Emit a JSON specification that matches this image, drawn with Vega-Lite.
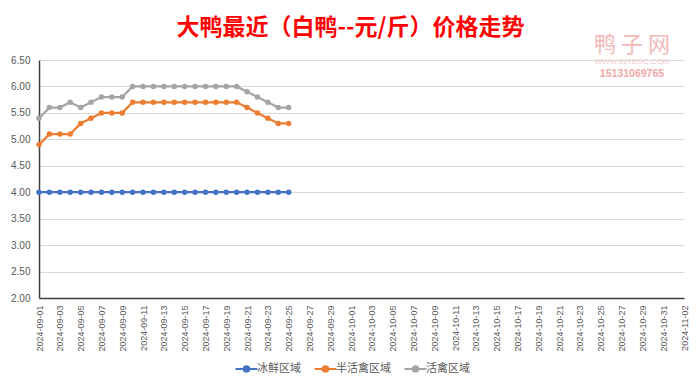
{
  "$schema": "https://vega.github.io/schema/vega-lite/v6.json",
  "width": 645,
  "height": 238,
  "autosize": {"type": "none"},
  "padding": {"left": 39, "top": 60, "right": 16, "bottom": 88},
  "background": "white",
  "config": {"view": {"stroke": null}},
  "title": {"text": "大鸭最近（白鸭--元/斤）价格走势", "color": "#FF0000", "fontSize": 23, "font": "Noto Sans CJK SC", "fontWeight": "bold", "anchor": "middle", "offset": -6, "dx": -11},
  "datasets": {
    "prices": [
      {"date": "2024-09-01", "冰鲜区域": 4.0, "半活禽区域": 4.9, "活禽区域": 5.4},
      {"date": "2024-09-02", "冰鲜区域": 4.0, "半活禽区域": 5.1, "活禽区域": 5.6},
      {"date": "2024-09-03", "冰鲜区域": 4.0, "半活禽区域": 5.1, "活禽区域": 5.6},
      {"date": "2024-09-04", "冰鲜区域": 4.0, "半活禽区域": 5.1, "活禽区域": 5.7},
      {"date": "2024-09-05", "冰鲜区域": 4.0, "半活禽区域": 5.3, "活禽区域": 5.6},
      {"date": "2024-09-06", "冰鲜区域": 4.0, "半活禽区域": 5.4, "活禽区域": 5.7},
      {"date": "2024-09-07", "冰鲜区域": 4.0, "半活禽区域": 5.5, "活禽区域": 5.8},
      {"date": "2024-09-08", "冰鲜区域": 4.0, "半活禽区域": 5.5, "活禽区域": 5.8},
      {"date": "2024-09-09", "冰鲜区域": 4.0, "半活禽区域": 5.5, "活禽区域": 5.8},
      {"date": "2024-09-10", "冰鲜区域": 4.0, "半活禽区域": 5.7, "活禽区域": 6.0},
      {"date": "2024-09-11", "冰鲜区域": 4.0, "半活禽区域": 5.7, "活禽区域": 6.0},
      {"date": "2024-09-12", "冰鲜区域": 4.0, "半活禽区域": 5.7, "活禽区域": 6.0},
      {"date": "2024-09-13", "冰鲜区域": 4.0, "半活禽区域": 5.7, "活禽区域": 6.0},
      {"date": "2024-09-14", "冰鲜区域": 4.0, "半活禽区域": 5.7, "活禽区域": 6.0},
      {"date": "2024-09-15", "冰鲜区域": 4.0, "半活禽区域": 5.7, "活禽区域": 6.0},
      {"date": "2024-09-16", "冰鲜区域": 4.0, "半活禽区域": 5.7, "活禽区域": 6.0},
      {"date": "2024-09-17", "冰鲜区域": 4.0, "半活禽区域": 5.7, "活禽区域": 6.0},
      {"date": "2024-09-18", "冰鲜区域": 4.0, "半活禽区域": 5.7, "活禽区域": 6.0},
      {"date": "2024-09-19", "冰鲜区域": 4.0, "半活禽区域": 5.7, "活禽区域": 6.0},
      {"date": "2024-09-20", "冰鲜区域": 4.0, "半活禽区域": 5.7, "活禽区域": 6.0},
      {"date": "2024-09-21", "冰鲜区域": 4.0, "半活禽区域": 5.6, "活禽区域": 5.9},
      {"date": "2024-09-22", "冰鲜区域": 4.0, "半活禽区域": 5.5, "活禽区域": 5.8},
      {"date": "2024-09-23", "冰鲜区域": 4.0, "半活禽区域": 5.4, "活禽区域": 5.7},
      {"date": "2024-09-24", "冰鲜区域": 4.0, "半活禽区域": 5.3, "活禽区域": 5.6},
      {"date": "2024-09-25", "冰鲜区域": 4.0, "半活禽区域": 5.3, "活禽区域": 5.6}
    ]
  },
  "encoding": {
    "x": {
      "field": "date", "type": "ordinal",
      "scale": {"type": "point", "padding": 0, "domain": ["2024-09-01","2024-09-02","2024-09-03","2024-09-04","2024-09-05","2024-09-06","2024-09-07","2024-09-08","2024-09-09","2024-09-10","2024-09-11","2024-09-12","2024-09-13","2024-09-14","2024-09-15","2024-09-16","2024-09-17","2024-09-18","2024-09-19","2024-09-20","2024-09-21","2024-09-22","2024-09-23","2024-09-24","2024-09-25","2024-09-26","2024-09-27","2024-09-28","2024-09-29","2024-09-30","2024-10-01","2024-10-02","2024-10-03","2024-10-04","2024-10-05","2024-10-06","2024-10-07","2024-10-08","2024-10-09","2024-10-10","2024-10-11","2024-10-12","2024-10-13","2024-10-14","2024-10-15","2024-10-16","2024-10-17","2024-10-18","2024-10-19","2024-10-20","2024-10-21","2024-10-22","2024-10-23","2024-10-24","2024-10-25","2024-10-26","2024-10-27","2024-10-28","2024-10-29","2024-10-30","2024-10-31","2024-11-01","2024-11-02"]},
      "axis": {
        "title": null,
        "values": ["2024-09-01","2024-09-03","2024-09-05","2024-09-07","2024-09-09","2024-09-11","2024-09-13","2024-09-15","2024-09-17","2024-09-19","2024-09-21","2024-09-23","2024-09-25","2024-09-27","2024-09-29","2024-10-01","2024-10-03","2024-10-05","2024-10-07","2024-10-09","2024-10-11","2024-10-13","2024-10-15","2024-10-17","2024-10-19","2024-10-21","2024-10-23","2024-10-25","2024-10-27","2024-10-29","2024-10-31","2024-11-02"],
        "labelAngle": -90, "labelFont": "Liberation Sans", "labelFontSize": 9, "labelColor": "#595959",
        "ticks": false, "labelPadding": 7, "domainColor": "#404040", "domainWidth": 1.5, "grid": false, "labelOverlap": false
      }
    },
    "y": {
      "field": "price", "type": "quantitative",
      "scale": {"domain": [2, 6.5], "nice": false, "zero": false},
      "axis": {
        "title": null, "values": [2, 2.5, 3, 3.5, 4, 4.5, 5, 5.5, 6, 6.5], "format": ".2f",
        "labelFont": "Liberation Sans", "labelFontSize": 10, "labelColor": "#595959", "labelOverlap": false,
        "ticks": false, "labelPadding": 9, "domainColor": "#404040", "domainWidth": 1.5,
        "gridColor": "#D9D9D9", "gridWidth": 1
      }
    }
  },
  "layer": [
    {
      "data": {"name": "prices"},
      "transform": [{"fold": ["冰鲜区域", "半活禽区域", "活禽区域"], "as": ["series", "price"]}],
      "encoding": {
        "color": {
          "field": "series", "type": "nominal",
          "scale": {"domain": ["冰鲜区域", "半活禽区域", "活禽区域"], "range": ["#4472C4", "#ED7D31", "#A5A5A5"]},
          "legend": {
            "title": null, "orient": "none", "direction": "horizontal", "legendX": 201, "legendY": 302,
            "symbolType": "M-2,0L2,0M0.5,0A0.5,0.5,0,1,1,-0.5,0A0.5,0.5,0,1,1,0.5,0",
            "symbolSize": 120, "symbolStrokeWidth": 2, "labelOffset": 4,
            "labelFont": "Noto Sans CJK SC", "labelFontSize": 11, "labelColor": "#595959", "columnPadding": 9,
            "encode": {"symbols": {"update": {"fill": {"scale": "color", "field": "value"}, "stroke": {"scale": "color", "field": "value"}, "opacity": {"value": 1}}}}
          }
        }
      },
      "layer": [
        {"mark": {"type": "line", "strokeWidth": 2.25}},
        {"mark": {"type": "point", "filled": true, "size": 30, "opacity": 1}}
      ]
    },
    {
      "data": {"values": [{"date": "2024-10-28", "price": 6.78, "t": "鸭 子 网"}]},
      "mark": {"type": "text", "font": "Noto Sans CJK SC", "fontSize": 22, "color": "#F5B8B8", "align": "center", "baseline": "middle"},
      "encoding": {"text": {"field": "t"}}
    },
    {
      "data": {"values": [{"date": "2024-10-28", "price": 6.46, "t": "WWW.INTEDC.COM"}]},
      "mark": {"type": "text", "font": "Liberation Sans", "fontSize": 8, "color": "#F2CACA", "align": "center", "baseline": "middle"},
      "encoding": {"text": {"field": "t"}}
    },
    {
      "data": {"values": [{"date": "2024-10-28", "price": 6.24, "t": "15131069765"}]},
      "mark": {"type": "text", "font": "Liberation Sans", "fontSize": 10.5, "fontWeight": "bold", "color": "#F2A8A8", "align": "center", "baseline": "middle"},
      "encoding": {"text": {"field": "t"}}
    }
  ]
}
